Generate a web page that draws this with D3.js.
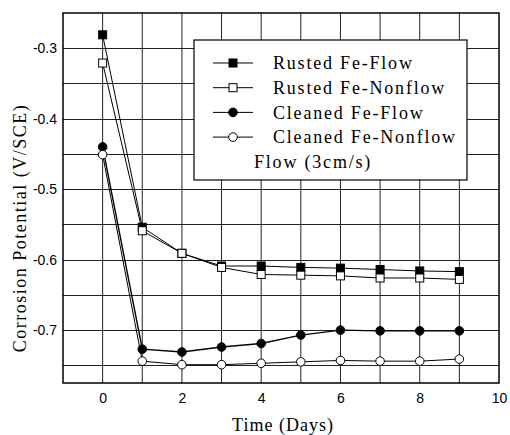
<!DOCTYPE html>
<html>
<head>
<meta charset="utf-8">
<script src="https://cdn.jsdelivr.net/npm/d3@7"></script>
<style>
    body { margin: 0; background: #fff; }
</style>
</head>
<body>
<div id="chart"></div>
<script>
var days = [0, 1, 2, 3, 4, 5, 6, 7, 8, 9];
var rustedFlow = [-0.281, -0.554, -0.591, -0.609, -0.609, -0.611, -0.612, -0.614, -0.616, -0.617];
var rustedNonflow = [-0.321, -0.559, -0.591, -0.611, -0.621, -0.622, -0.623, -0.626, -0.626, -0.628];
var cleanedFlow = [-0.44, -0.727, -0.731, -0.724, -0.719, -0.707, -0.700, -0.701, -0.701, -0.701];
var cleanedNonflow = [-0.451, -0.744, -0.749, -0.749, -0.747, -0.745, -0.743, -0.744, -0.744, -0.741];
var seriesNames = ["Rusted Fe-Flow", "Rusted Fe-Nonflow", "Cleaned Fe-Flow", "Cleaned Fe-Nonflow"];
var xTicks = [0, 2, 4, 6, 8, 10];
var yTicks = [-0.3, -0.4, -0.5, -0.6, -0.7];

var width = 510;
var height = 435;
var margin = { top: 13, right: 11, bottom: 52, left: 63 };
var serif = "'Liberation Serif', 'DejaVu Serif', serif";
var sans = "'Liberation Sans', Arial, sans-serif";

var series = [
    { name: seriesNames[0], values: rustedFlow, shape: 'square', fill: '#000', lw: 1 },
    { name: seriesNames[1], values: rustedNonflow, shape: 'square', fill: '#fff', lw: 1 },
    { name: seriesNames[2], values: cleanedFlow, shape: 'circle', fill: '#000', lw: 1.4 },
    { name: seriesNames[3], values: cleanedNonflow, shape: 'circle', fill: '#fff', lw: 1 }
];

var svg = d3.select('#chart').append('svg')
    .attr('width', width)
    .attr('height', height);

var innerW = width - margin.left - margin.right;
var innerH = height - margin.top - margin.bottom;

var g = svg.append('g')
    .attr('transform', 'translate(' + margin.left + ',' + margin.top + ')');

var x = d3.scaleLinear().domain([-1, 10]).range([0, innerW]);
var y = d3.scaleLinear().domain([-0.775, -0.25]).range([innerH, 0]);

// grid
g.selectAll('.vgrid')
    .data(d3.range(0, 10))
    .enter()
    .append('line')
    .attr('x1', function(d) { return x(d); })
    .attr('x2', function(d) { return x(d); })
    .attr('y1', 0)
    .attr('y2', innerH)
    .attr('stroke', '#222')
    .attr('stroke-width', 1);

g.selectAll('.hgrid')
    .data(d3.range(-0.75, -0.26, 0.05))
    .enter()
    .append('line')
    .attr('x1', 0)
    .attr('x2', innerW)
    .attr('y1', function(d) { return Math.round(y(d)) + 0.5; })
    .attr('y2', function(d) { return Math.round(y(d)) + 0.5; })
    .attr('stroke', '#222')
    .attr('stroke-width', 1);

// axes - plain hyphen for the minus sign, like the original
var xAxis = g.append('g')
    .attr('transform', 'translate(0,' + innerH + ')')
    .call(d3.axisBottom(x).tickValues(xTicks).tickSize(0).tickPadding(10)
        .tickFormat(function(d) { return String(d); }));
var yAxis = g.append('g')
    .call(d3.axisLeft(y).tickValues(yTicks).tickSize(0).tickPadding(6)
        .tickFormat(function(d) { return d.toFixed(1); }));

[xAxis, yAxis].forEach(function(a) {
    a.select('.domain').remove();
    a.selectAll('text')
        .attr('font-family', sans)
        .attr('font-size', '14px')
        .attr('fill', '#000');
});

g.append('rect')
    .attr('x', 0)
    .attr('y', 0)
    .attr('width', innerW)
    .attr('height', innerH)
    .attr('fill', 'none')
    .attr('stroke', '#000')
    .attr('stroke-width', 1.5);

// lines and markers
var line = d3.line()
    .x(function(d, i) { return x(days[i]); })
    .y(function(d) { return y(d); });

function marker(sel, s) {
    if (s.shape === 'square') {
        sel.append('rect')
            .attr('x', -4)
            .attr('y', -4)
            .attr('width', 8)
            .attr('height', 8)
            .attr('fill', s.fill)
            .attr('stroke', '#000')
            .attr('stroke-width', 1);
    } else {
        sel.append('circle')
            .attr('r', 4.3)
            .attr('fill', s.fill)
            .attr('stroke', '#000')
            .attr('stroke-width', 1);
    }
}

series.forEach(function(s) {
    g.append('path')
        .datum(s.values)
        .attr('d', line)
        .attr('fill', 'none')
        .attr('stroke', '#000')
        .attr('stroke-width', s.lw);
});

series.forEach(function(s) {
    s.values.forEach(function(v, i) {
        var m = g.append('g')
            .attr('transform', 'translate(' + x(days[i]) + ',' + y(v) + ')');
        marker(m, s);
    });
});

// legend
var legend = svg.append('g')
    .attr('transform', 'translate(194,40)');

legend.append('rect')
    .attr('width', 273)
    .attr('height', 140)
    .attr('fill', '#fff')
    .attr('stroke', '#000')
    .attr('stroke-width', 1.2);

series.forEach(function(s, i) {
    var row = legend.append('g')
        .attr('transform', 'translate(0,' + (23 + i * 24.7) + ')');
    row.append('line')
        .attr('x1', 19)
        .attr('x2', 59)
        .attr('stroke', '#000')
        .attr('stroke-width', 1);
    var m = row.append('g').attr('transform', 'translate(39,0)');
    marker(m, s);
    row.append('text')
        .attr('x', 79)
        .attr('dy', '0.35em')
        .attr('font-family', serif)
        .attr('font-size', '18px')
        .attr('letter-spacing', '1.8px')
        .text(s.name);
});

legend.append('text')
    .attr('x', 60)
    .attr('y', 122)
    .attr('dy', '0.35em')
    .attr('font-family', serif)
    .attr('font-size', '18px')
    .attr('letter-spacing', '1.8px')
    .text('Flow (3cm/s)');

// axis titles
svg.append('text')
    .attr('x', margin.left + innerW / 2 + 2)
    .attr('y', 431)
    .attr('text-anchor', 'middle')
    .attr('font-family', serif)
    .attr('font-size', '18px')
    .attr('letter-spacing', '1px')
    .text('Time (Days)');

svg.append('text')
    .attr('transform', 'translate(26,228) rotate(-90)')
    .attr('text-anchor', 'middle')
    .attr('font-family', serif)
    .attr('font-size', '18px')
    .attr('letter-spacing', '1.5px')
    .text('Corrosion Potential (V/SCE)');
</script>
</body>
</html>
